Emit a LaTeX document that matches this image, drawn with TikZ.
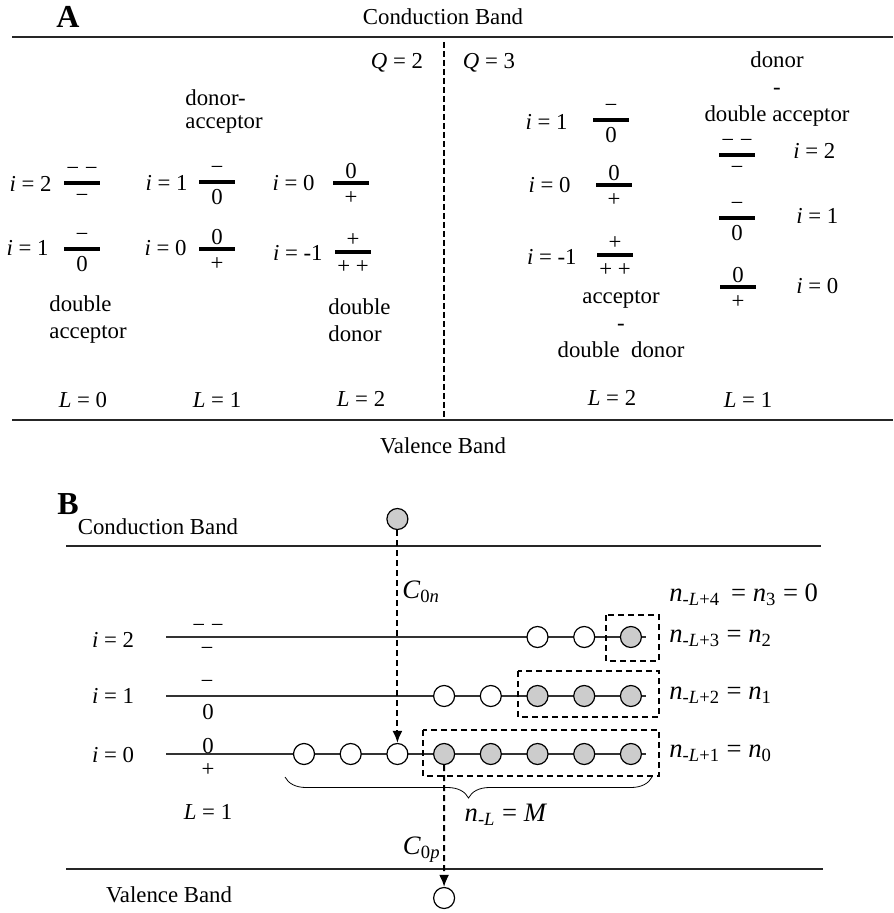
\documentclass[tikz,border=0pt]{standalone}
\usepackage{fontspec}
\setmainfont{Liberation Serif}
\usetikzlibrary{positioning,arrows.meta,decorations.pathreplacing,calc}

% bar level with its charge states above and below
\newcommand{\lvlbar}[5]{%
  \node[bar] (#1) at (#2,#3) {};
  \node[chg] (#1u) at ($(#1)+(0,-12)$) {#4};
  \node[chg] (#1d) at ($(#1)+(0,15)$) {#5};}

\begin{document}
\begin{tikzpicture}[x=0.5pt, y=-0.5pt,
        txt/.style={font=\fontsize{11.4}{13.5}\selectfont, inner sep=0pt},
        chg/.style={font=\fontsize{11.4}{13.5}\selectfont, inner sep=0pt},
        mth/.style={font=\fontsize{13.3}{16}\selectfont, inner sep=0pt},
        plabel/.style={font=\bfseries\fontsize{16}{18}\selectfont, inner sep=0pt},
        bar/.style={fill=black, inner sep=0pt, minimum width=18pt, minimum height=1.6pt},
        bandline/.style={line width=0.85pt, black!85},
        lvline/.style={line width=0.7pt, black!80},
        hole/.style={circle, draw, line width=0.6pt, fill=white, minimum size=10.5pt, inner sep=0pt},
        elec/.style={hole, fill=black!20},
        cell/.style={line width=1pt, dash pattern=on 3pt off 2pt},
        jump/.style={cell, -{Latex[length=6pt,width=5pt]}}]
    \useasboundingbox (0,0) rectangle (893,913);

    % ---- panel A
    \node[plabel] (pa) at (68,17) {A};
    \node[txt] (cbA) at (443,17) {Conduction Band};
    \node[txt] (vbA) at (443,446) {Valence Band};
    \coordinate (topL) at (12,37);
    \coordinate (topR) at (893,37);
    \coordinate (botL) at (12,420);
    \coordinate (botR) at (893,420);
    \coordinate (divT) at (444,42);
    \coordinate (divB) at (444,420);
    \draw[bandline] (topL) -- (topR);
    \draw[bandline] (botL) -- (botR);
    \draw[line width=1pt, dash pattern=on 3pt off 1.5pt] (divT) -- (divB);
    \node[txt] (q2) at (397,63) {\textit{Q} = 2};
    \node[txt] (q3) at (489,63) {\textit{Q} = 3};

    \lvlbar{a1}{82}{183}{− −}{−}
    \lvlbar{a2}{82}{249}{−}{0}
    \lvlbar{b1}{217}{182}{−}{0}
    \lvlbar{b2}{217}{249}{0}{+}
    \lvlbar{c1}{351}{183}{0}{+}
    \lvlbar{c2}{353}{252}{+}{+ +}
    \lvlbar{d1}{611}{120}{−}{0}
    \lvlbar{d2}{614}{185}{0}{+}
    \lvlbar{d3}{615}{255}{+}{+ +}
    \lvlbar{e1}{737}{155}{− −}{−}
    \lvlbar{e2}{737}{218}{−}{0}
    \lvlbar{e3}{738}{287}{0}{+}

    \node[txt, anchor=east] (ia1) at (52,184) {\textit{i} = 2};
    \node[txt, anchor=east] (ia2) at (49,248) {\textit{i} = 1};
    \node[txt, anchor=east] (ib1) at (188,183) {\textit{i} = 1};
    \node[txt, anchor=east] (ib2) at (187,248) {\textit{i} = 0};
    \node[txt, anchor=east] (ic1) at (315,183) {\textit{i} = 0};
    \node[txt, anchor=east] (ic2) at (323,253) {\textit{i} = -1};
    \node[txt, anchor=east] (id1) at (568,122) {\textit{i} = 1};
    \node[txt, anchor=east] (id2) at (571,185) {\textit{i} = 0};
    \node[txt, anchor=east] (id3) at (577,257) {\textit{i} = -1};
    \node[txt, anchor=west] (ie1) at (793,151) {\textit{i} = 2};
    \node[txt, anchor=west] (ie2) at (796,216) {\textit{i} = 1};
    \node[txt, anchor=west] (ie3) at (796,286) {\textit{i} = 0};

    \node[txt, anchor=west, align=left] (da) at (185,112) {donor-\\[-2pt]acceptor};
    \node[txt, anchor=west, align=left] (dacc) at (49,320) {double\\acceptor};
    \node[txt, anchor=west, align=left] (ddon) at (328,320) {double\\donor};
    \node[txt, align=center] (dnda) at (777,89) {donor\\-\\double acceptor};
    \node[txt, align=center] (acdd) at (621,324) {acceptor\\-\\double\ \ donor};

    \node[txt] (la0) at (83,400) {\textit{L} = 0};
    \node[txt] (la1) at (217,400) {\textit{L} = 1};
    \node[txt] (la2) at (361,399) {\textit{L} = 2};
    \node[txt] (lb2) at (612,398) {\textit{L} = 2};
    \node[txt] (lb1) at (748,400) {\textit{L} = 1};

    % ---- panel B
    \node[plabel] (pb) at (68,504) {B};
    \node[txt] (cbB) at (158,527) {Conduction Band};
    \node[txt] (vbB) at (169,895) {Valence Band};
    \coordinate (cbL) at (66,546);
    \coordinate (cbR) at (821,546);
    \coordinate (vbL) at (66,869);
    \coordinate (vbR) at (823,869);
    \draw[bandline] (cbL) -- (cbR);
    \draw[bandline] (vbL) -- (vbR);

    \coordinate (l2s) at (166,637);
    \coordinate (l2e) at (646,637);
    \coordinate (l1s) at (166,696);
    \coordinate (l1e) at (646,696);
    \coordinate (l0s) at (166,754);
    \coordinate (l0e) at (646,754);
    \draw[lvline] (l2s) -- (l2e);
    \draw[lvline] (l1s) -- (l1e);
    \draw[lvline] (l0s) -- (l0e);

    \node[txt] (ib2l) at (113,640) {\textit{i} = 2};
    \node[txt] (ib1l) at (113,696) {\textit{i} = 1};
    \node[txt] (ib0l) at (113,755) {\textit{i} = 0};
    \node[chg] (q2u) at (208,628) {− −};
    \node[chg] (q2d) at (207,651) {−};
    \node[chg] (q1u) at (207,684) {−};
    \node[chg] (q1d) at (208,712) {0};
    \node[chg] (q0u) at (208,746) {0};
    \node[chg] (q0d) at (208,770) {+};
    \node[txt] (lB) at (208,812) {\textit{L} = 1};

    \foreach \k in {0,1,2} {\node[hole] (z\k) at ({304+46.7*\k},754) {};}
    \foreach \k in {3,...,7} {\node[elec] (z\k) at ({304+46.7*\k},754) {};}
    \foreach \k in {3,4} {\node[hole] (o\k) at ({304+46.7*\k},696) {};}
    \foreach \k in {5,6,7} {\node[elec] (o\k) at ({304+46.7*\k},696) {};}
    \foreach \k in {5,6} {\node[hole] (t\k) at ({304+46.7*\k},637) {};}
    \node[elec] (t7) at (630.9,637) {};

    \draw[cell] (606,615) rectangle (659,661);
    \draw[cell] (518,671) rectangle (659,717);
    \draw[cell] (423,730) rectangle (659,776);

    \node[elec] (ec) at (397.4,519) {};
    \node[hole] (hv) at (444.1,898) {};
    \draw[jump] (ec.south) -- (z2.north);
    \draw[jump] (z3.south) -- (hv.north);
    \node[mth, anchor=west] (c0n) at (402,592) {\textit{C}\textsubscript{0\textit{n}}};
    \node[mth, anchor=east] (c0p) at (441,850) {\textit{C}\textsubscript{0\textit{p}}};

    \coordinate (brL) at (285,777);
    \coordinate (brR) at (652,777);
    \draw[decorate, decoration={brace, mirror, amplitude=10.5pt}] (brL) -- (brR);
    \node[mth] (nM) at (506,815) {\textit{n}\textsubscript{-\textit{L}} = \textit{M}};

    \node[mth, anchor=west] (n3) at (669,595) {\textit{n}\textsubscript{-\textit{L}+4} \,= \textit{n}\textsubscript{3} = 0};
    \node[mth, anchor=west] (n2) at (669,638) {\textit{n}\textsubscript{-\textit{L}+3} = \textit{n}\textsubscript{2}};
    \node[mth, anchor=west] (n1) at (669,695) {\textit{n}\textsubscript{-\textit{L}+2} = \textit{n}\textsubscript{1}};
    \node[mth, anchor=west] (n0) at (669,753) {\textit{n}\textsubscript{-\textit{L}+1} = \textit{n}\textsubscript{0}};
\end{tikzpicture}
\end{document}
